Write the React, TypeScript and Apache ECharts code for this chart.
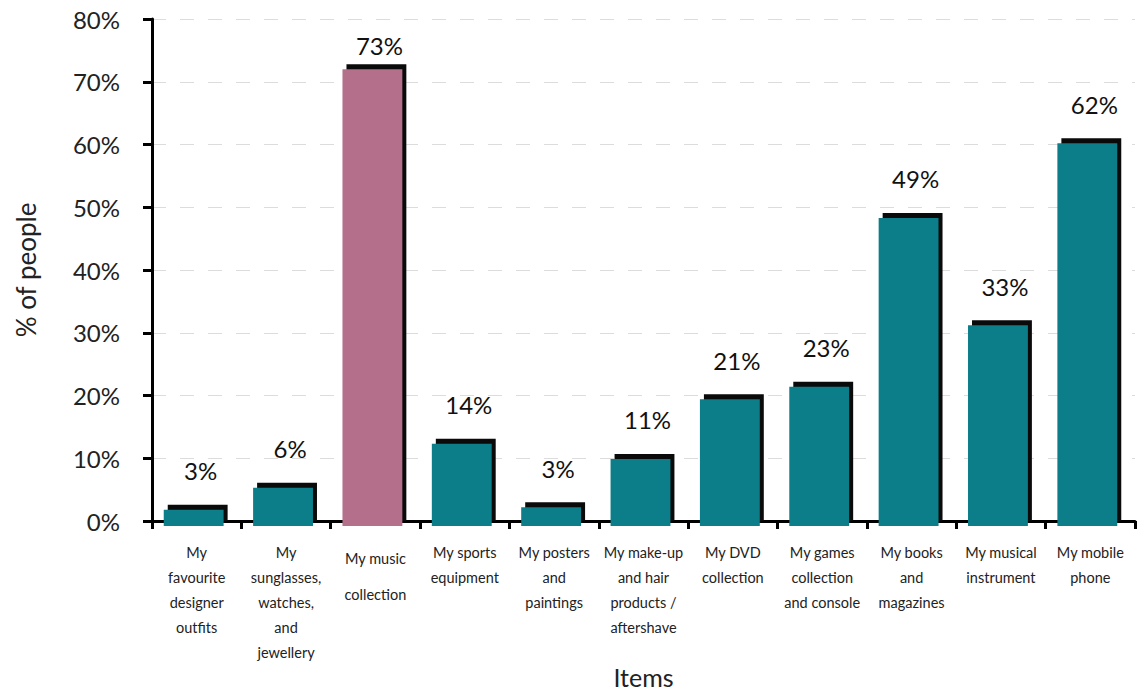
import React, { useEffect, useRef } from "react";
import * as echarts from "echarts";

const categories = [
  "My\nfavourite\ndesigner\noutfits",
  "My\nsunglasses,\nwatches,\nand\njewellery",
  "My music\ncollection",
  "My sports\nequipment",
  "My posters\nand\npaintings",
  "My make-up\nand hair\nproducts /\naftershave",
  "My DVD\ncollection",
  "My games\ncollection\nand console",
  "My books\nand\nmagazines",
  "My musical\ninstrument",
  "My mobile\nphone",
];
// bar heights as drawn (%)
const barValues = [1.8, 5.3, 72.0, 12.3, 2.2, 9.9, 19.4, 21.4, 48.3, 31.2, 60.2];
// printed data labels (%)
const labelValues = [3, 6, 73, 14, 3, 11, 21, 23, 49, 33, 62];
const highlightIndex = 2;
const yTicks = [0, 10, 20, 30, 40, 50, 60, 70, 80];

const TEAL = "#0b7e89";
const MAUVE = "#b4708a";
const FONT = "Lato, 'Open Sans', sans-serif";

export default function App() {
  const ref = useRef<HTMLDivElement>(null);
  useEffect(() => {
    if (!ref.current) return;
    const chart = echarts.init(ref.current, null, { renderer: "svg" });
    const data = barValues.map((v, i) => [i, v, labelValues[i]]);
    chart.setOption({
      animation: false,
      backgroundColor: "#ffffff",
      grid: {
        left: 152,
        right: 6,
        top: 19,
        bottom: 171,
        containLabel: false,
        outerBoundsMode: "none",
      },
      xAxis: {
        type: "category",
        data: categories,
        boundaryGap: true,
        name: "Items",
        nameLocation: "middle",
        nameGap: 143,
        nameMoveOverlap: false,
        nameTextStyle: { fontSize: 25, color: "#222", fontFamily: FONT },
        axisLine: { lineStyle: { color: "#000", width: 3 } },
        axisTick: { show: true, length: 8, interval: 0, lineStyle: { color: "#000", width: 3 } },
        axisLabel: {
          interval: 0,
          margin: 19,
          fontSize: 14.5,
          lineHeight: 25,
          color: "#222",
          fontFamily: FONT,
          formatter: (val: string, idx: number) => {
            if (idx === highlightIndex) {
              return val.split("\n").map((s) => "{m|" + s + "}").join("\n");
            }
            return val;
          },
          rich: {
            m: { fontSize: 14.5, lineHeight: 36, color: "#222", fontFamily: FONT },
          },
        },
      },
      yAxis: {
        type: "value",
        min: yTicks[0],
        max: yTicks[yTicks.length - 1],
        interval: 10,
        name: "% of people",
        nameLocation: "middle",
        nameGap: 113,
        nameMoveOverlap: false,
        nameRotate: 90,
        nameTextStyle: { fontSize: 26, color: "#222", fontFamily: FONT },
        axisLine: { show: true, lineStyle: { color: "#000", width: 3 } },
        axisTick: { show: true, length: 9, lineStyle: { color: "#000", width: 3 } },
        axisLabel: {
          formatter: "{value}%",
          fontSize: 24,
          margin: 32,
          color: "#222",
          fontFamily: FONT,
        },
        splitLine: { show: true, lineStyle: { color: "#dcdcdc", type: [14, 14], width: 1 } },
      },
      series: [
        {
          type: "custom",
          data,
          encode: { x: 0, y: 1 },
          renderItem: (params: any, api: any) => {
            const idx = api.value(0);
            const v = api.value(1);
            const lab = api.value(2);
            const base = api.coord([idx, 0]);
            const top = api.coord([idx, v]);
            const bw = api.size([1, 0])[0] * 0.67;
            const x0 = top[0] - bw / 2 - 3;
            const color = idx === highlightIndex ? MAUVE : TEAL;
            const labelY = Math.max(top[1] - 5 - 34, 45);
            return {
              type: "group",
              children: [
                {
                  type: "rect",
                  shape: { x: x0 + 4, y: top[1] - 5, width: bw, height: base[1] - top[1] + 5 },
                  style: { fill: "#0a0a0a" },
                },
                {
                  type: "rect",
                  shape: { x: x0, y: top[1], width: bw, height: base[1] - top[1] + 5 },
                  style: { fill: color },
                },
                {
                  type: "text",
                  x: top[0] + 4,
                  y: labelY,
                  style: {
                    text: lab + "%",
                    fontSize: 24,
                    fontFamily: FONT,
                    fill: "#111",
                    align: "center",
                    verticalAlign: "middle",
                  },
                },
              ],
            };
          },
        },
      ],
    });
    return () => chart.dispose();
  }, []);
  return (
    <div
      ref={ref}
      style={{ position: "fixed", left: 0, top: 0, width: 1141, height: 692, background: "#fff" }}
    />
  );
}
